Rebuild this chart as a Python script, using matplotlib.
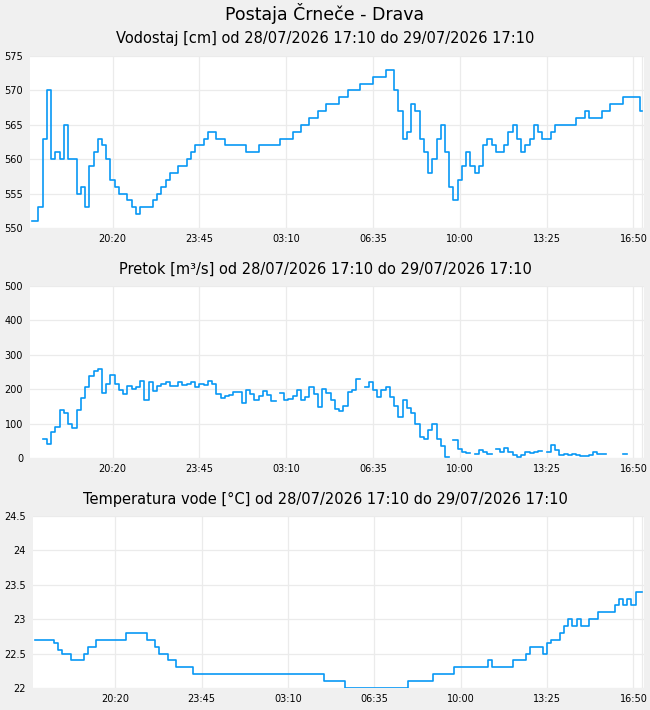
import numpy as np
import matplotlib
matplotlib.use("Agg")
import matplotlib.pyplot as plt
from matplotlib.ticker import FuncFormatter

# meritve na 10 minut, od 28/07/2026 17:10 (minute od zacetka)
minute = np.arange(0, 1441, 10)

vodostaj = [
    551, 551, 553, 563, 570, 560, 561, 560, 565, 560,
    560, 555, 556, 553, 559, 561, 563, 562, 560, 557,
    556, 555, 555, 554, 553, 552, 553, 553, 553, 554,
    555, 556, 557, 558, 558, 559, 559, 560, 561, 562,
    562, 563, 564, 564, 563, 563, 562, 562, 562, 562,
    562, 561, 561, 561, 562, 562, 562, 562, 562, 563,
    563, 563, 564, 564, 565, 565, 566, 566, 567, 567,
    568, 568, 568, 569, 569, 570, 570, 570, 571, 571,
    571, 572, 572, 572, 573, 573, 570, 567, 563, 564,
    568, 567, 563, 561, 558, 560, 563, 565, 561, 556,
    554, 557, 559, 561, 559, 558, 559, 562, 563, 562,
    561, 561, 562, 564, 565, 563, 561, 562, 563, 565,
    564, 563, 563, 564, 565, 565, 565, 565, 565, 566,
    566, 567, 566, 566, 566, 567, 567, 568, 568, 568,
    569, 569, 569, 569, 567,
]

nan = np.nan
pretok = [
    nan, nan, nan, 55, 40, 77, 90, 140, 130, 100,
    86, 139, 175, 205, 238, 253, 260, 190, 215, 240,
    215, 199, 185, 210, 200, 205, 225, 170, 220, 195,
    210, 216, 220, 210, 210, 220, 212, 215, 220, 205,
    215, 213, 224, 215, 185, 175, 180, 183, 191, 192,
    160, 197, 187, 168, 180, 195, 183, 165, nan, 190,
    170, 172, 180, 197, 168, 178, 207, 185, 149, 201,
    189, 170, 141, 137, 150, 192, 197, 231, nan, 205,
    221, 199, 176, 199, 205, 178, 151, 120, 170, 145,
    132, 100, 60, 55, 80, 98, 55, 35, 2, nan,
    53, 27, 17, 15, nan, 13, 24, 17, 13, nan,
    27, 17, 30, 17, 8, 3, 8, 17, 15, 17,
    20, nan, 17, 37, 22, 8, 11, 8, 13, 8,
    7, 5, 8, 17, 11, 13, nan, nan, nan, nan,
    13, nan, nan, nan, nan,
]

temperatura = [
    22.7, 22.7, 22.7, 22.7, 22.7, 22.65, 22.55, 22.5, 22.5, 22.4,
    22.4, 22.4, 22.5, 22.6, 22.6, 22.7, 22.7, 22.7, 22.7, 22.7,
    22.7, 22.7, 22.8, 22.8, 22.8, 22.8, 22.8, 22.7, 22.7, 22.6,
    22.5, 22.5, 22.4, 22.4, 22.3, 22.3, 22.3, 22.3, 22.2, 22.2,
    22.2, 22.2, 22.2, 22.2, 22.2, 22.2, 22.2, 22.2, 22.2, 22.2,
    22.2, 22.2, 22.2, 22.2, 22.2, 22.2, 22.2, 22.2, 22.2, 22.2,
    22.2, 22.2, 22.2, 22.2, 22.2, 22.2, 22.2, 22.2, 22.2, 22.1,
    22.1, 22.1, 22.1, 22.1, 22.0, 22.0, 22.0, 22.0, 22.0, 22.0,
    22.0, 22.0, 22.0, 22.0, 22.0, 22.0, 22.0, 22.0, 22.0, 22.1,
    22.1, 22.1, 22.1, 22.1, 22.1, 22.2, 22.2, 22.2, 22.2, 22.2,
    22.3, 22.3, 22.3, 22.3, 22.3, 22.3, 22.3, 22.3, 22.4, 22.3,
    22.3, 22.3, 22.3, 22.3, 22.4, 22.4, 22.4, 22.5, 22.6, 22.6,
    22.6, 22.5, 22.65, 22.7, 22.7, 22.8, 22.9, 23.0, 22.9, 23.0,
    22.9, 22.9, 23.0, 23.0, 23.1, 23.1, 23.1, 23.1, 23.2, 23.3,
    23.2, 23.3, 23.2, 23.4, 23.4,
]

x_ticki = [190, 395, 600, 805, 1010, 1215, 1420]
x_oznake = ["20:20", "23:45", "03:10", "06:35", "10:00", "13:25", "16:50"]

obdobje = "od 28/07/2026 17:10 do 29/07/2026 17:10"
paneli = [
    ("Vodostaj [cm] " + obdobje, vodostaj, (550, 575), np.arange(550, 576, 5)),
    ("Pretok [m³/s] " + obdobje, pretok, (0, 500), np.arange(0, 501, 100)),
    ("Temperatura vode [°C] " + obdobje, temperatura, (22, 24.5), np.arange(22, 24.51, 0.5)),
]

modra = "#0898f5"
siva = "#ebebeb"

fig = plt.figure(figsize=(6.5, 7.1), dpi=100, facecolor="#f0f0f0")
fig.text(0.5, 1 - 14 / 710, "Postaja Črneče - Drava", ha="center", va="center", fontsize=12.5)

# [levo, dno, sirina, visina] v pikslih, y od vrha
okvirji = [(30, 56, 614, 172), (30, 286, 614, 172), (33, 516, 611, 172)]
naslov_y = [39, 269, 499]

for (naslov, vrednosti, ylim, yticks), (l, t, w, h), ny in zip(paneli, okvirji, naslov_y):
    ax = fig.add_axes([l / 650, 1 - (t + h) / 710, w / 650, h / 710])
    ax.set_facecolor("white")
    ax.plot(minute, vrednosti, color=modra, lw=1.2, drawstyle="steps-mid")
    ax.set_xlim(-5, 1445)
    ax.set_ylim(*ylim)
    ax.set_xticks(x_ticki)
    ax.set_xticklabels(x_oznake)
    ax.set_xticks([1440], minor=True)
    ax.set_yticks(yticks)
    ax.yaxis.set_major_formatter(FuncFormatter(lambda v, p: f"{v:g}"))
    ax.grid(True, which="both", color=siva, lw=0.9)
    ax.set_axisbelow(True)
    ax.tick_params(which="both", length=0, labelsize=7)
    ax.tick_params(axis="y", pad=5)
    ax.tick_params(axis="x", pad=4)
    for s in ax.spines.values():
        s.set_visible(False)
    fig.text(0.5, 1 - ny / 710, naslov, ha="center", va="center", fontsize=10.5)

fig.savefig("out.png", dpi=100, facecolor=fig.get_facecolor())
